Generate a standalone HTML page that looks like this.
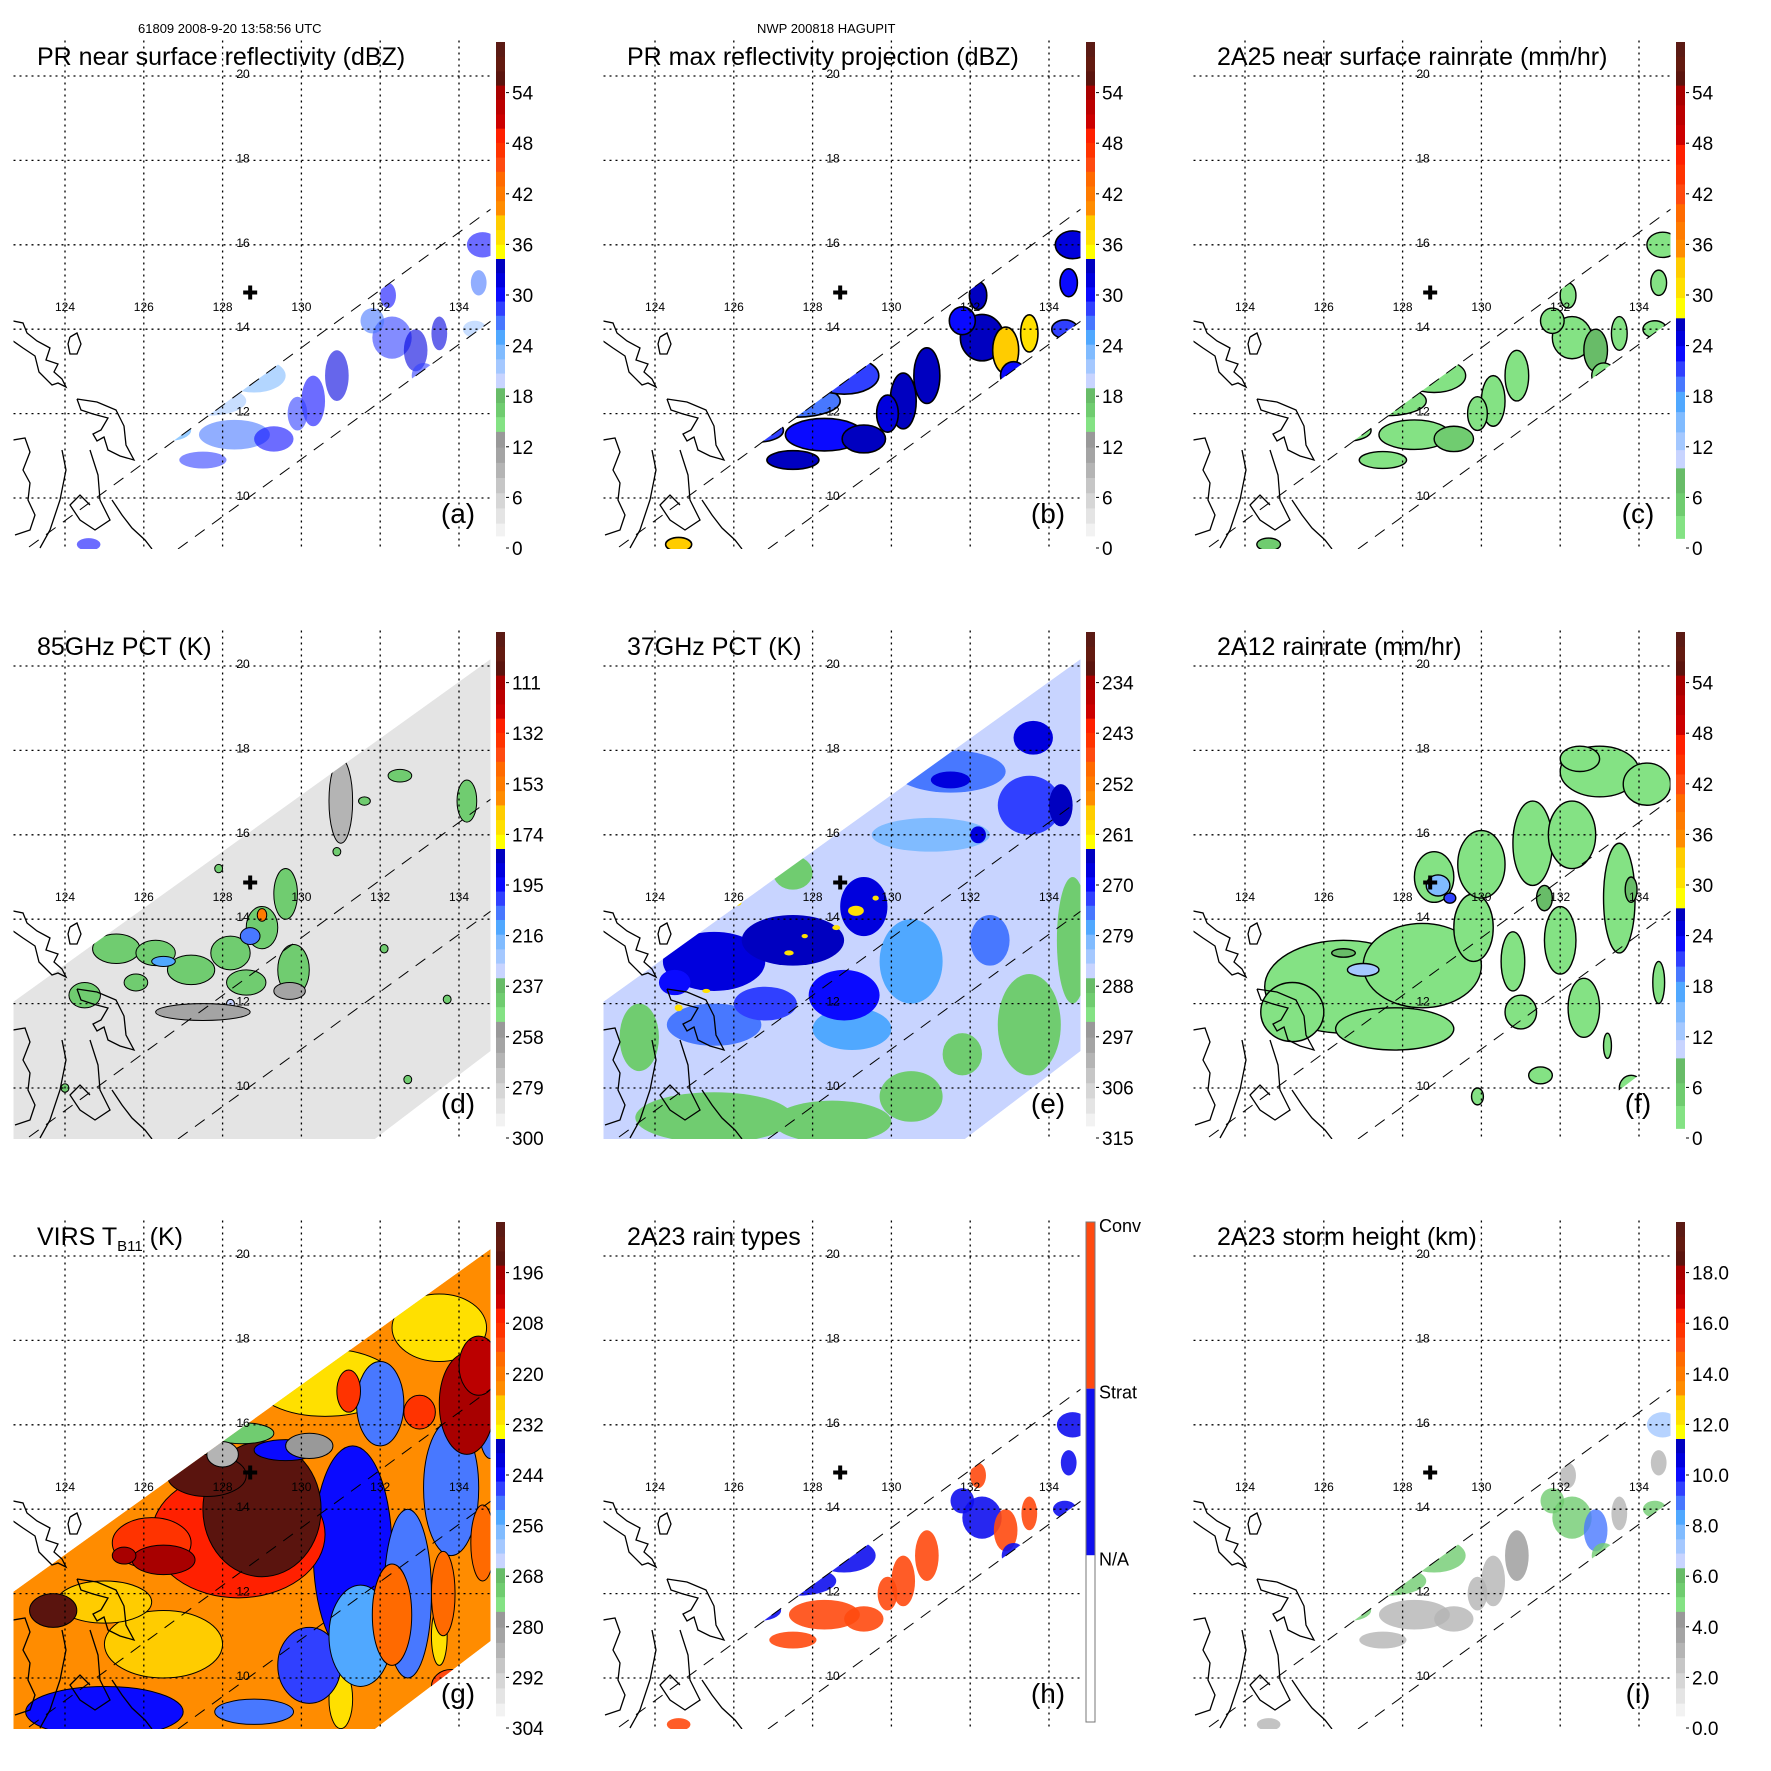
<!DOCTYPE html>
<html><head><meta charset="utf-8"><style>
html,body{margin:0;padding:0;background:#fff;}
svg{display:block;font-family:"Liberation Sans",sans-serif;}
</style></head><body>
<svg id="fig" xmlns="http://www.w3.org/2000/svg" width="1771" height="1771" viewBox="0 0 1771 1771">
<rect x="0" y="0" width="1771" height="1771" fill="#fff"/>
<text x="138" y="33" font-size="13">61809 2008-9-20 13:58:56 UTC</text>
<text x="757" y="33" font-size="13">NWP 200818 HAGUPIT</text>
</svg>
<script>
// ---------- data ----------
const prLon=[127.6,128.8,126.6,128.3,129.3,127.5,130.3,130.9,132.3,132.9,133.1,134.6,134.4,134.5,132.2,124.6,131.8,129.9,126.0,133.5];
const prLat=[12.3,12.9,11.6,11.5,11.4,10.9,12.3,12.9,13.8,13.5,12.9,16.0,14.0,15.1,14.8,8.9,14.2,12.0,11.3,13.9];
const prRx=[1.0,0.8,0.6,0.9,0.5,0.6,0.3,0.3,0.5,0.3,0.3,0.4,0.3,0.2,0.2,0.3,0.3,0.25,0.3,0.2];
const prRy=[0.35,0.4,0.25,0.35,0.3,0.2,0.6,0.6,0.5,0.5,0.3,0.3,0.2,0.3,0.3,0.15,0.3,0.4,0.15,0.4];
const aVal=[21,23,25,27,30,28,30,31,29,32,28,30,22,27,30,30,27,29,26,31];
const bVal=[27,28,29,30,34,33,34,33,33,38,30,31,28,30,33,38,30,32,31,36];
const cVal=[2,2,2,3,6,3,3,3,3,8,2,2,2,2,3,4,2,2,2,3];
const hVal=[1,1,1,2,2,2,2,2,1,2,1,1,1,1,2,2,1,2,2,2];
const iVal=[5.5,5.5,5.5,3,3,3,3,4,5.5,9,5.5,7,5.5,3,3,3,5.5,3,3,3];

const dBack=285;
const dLon=[125.3,126.3,127.2,128.2,129.0,129.6,128.6,129.8,124.5,125.8,126.5,128.7,129.0,132.5,134.2,131.6,130.9,132.1,133.7,126.5,127.9,128.2,132.7,124.0,127.5,129.7,131.0];
const dLat=[13.3,13.2,12.8,13.2,13.8,14.6,12.5,12.8,12.2,12.5,13.0,13.6,14.1,17.4,16.8,16.8,15.6,13.3,12.1,15.8,15.2,12.0,10.2,10.0,11.8,12.3,16.8];
const dRx=[0.6,0.5,0.6,0.5,0.4,0.3,0.5,0.4,0.4,0.3,0.3,0.25,0.12,0.3,0.25,0.15,0.1,0.1,0.1,0.1,0.1,0.1,0.1,0.1,1.2,0.4,0.3];
const dRy=[0.35,0.3,0.35,0.4,0.5,0.6,0.3,0.6,0.3,0.2,0.12,0.2,0.15,0.15,0.5,0.1,0.1,0.1,0.1,0.1,0.1,0.1,0.1,0.1,0.2,0.2,1.0];
const dVal=[240,240,240,240,240,240,240,240,240,240,215,205,150,240,240,240,240,240,240,240,240,230,240,240,262,262,270];

const eBack=285;
const eLon=[125.5,129.0,130.5,131.5,133.5,132.5,131.0,125.5,127.5,129.3,128.8,126.8,124.5,130.3,131.5,133.6,134.3,132.2,125.5,128.5,130.5,133.5,134.6,127.5,125.8,123.6,131.8,127.4,128.6,129.1,126.1,124.6,125.3,129.6,127.8];
const eLat=[11.5,11.4,13.0,17.5,16.7,13.5,16.0,13.0,13.5,14.3,12.2,12.0,12.5,17.6,17.3,18.3,16.7,16.0,9.3,9.2,9.8,11.5,13.5,15.1,14.6,11.2,10.8,13.2,13.8,14.2,14.4,11.9,12.3,14.5,13.6];
const eRx=[1.2,1.0,0.8,1.4,0.8,0.5,1.5,1.3,1.3,0.6,0.9,0.8,0.4,0.4,0.5,0.5,0.3,0.2,2.0,1.5,0.8,0.8,0.4,0.5,0.4,0.5,0.5,0.12,0.1,0.2,0.1,0.1,0.1,0.08,0.08];
const eRy=[0.5,0.5,1.0,0.5,0.7,0.6,0.4,0.7,0.6,0.7,0.6,0.4,0.3,0.3,0.2,0.4,0.5,0.2,0.6,0.5,0.6,1.2,1.5,0.4,0.25,0.8,0.5,0.06,0.06,0.12,0.08,0.08,0.05,0.06,0.05];
const eVal=[276,277,278,274,272,276,279,267,266,267,270,272,270,268,268,268,266,268,290,290,290,290,290,290,290,290,290,259,259,259,259,259,259,259,259];

const fLon=[126.5,128.5,127.8,125.2,129.8,128.8,130.0,131.3,132.3,133.0,134.2,132.5,133.5,132.0,130.8,131.0,132.6,134.5,133.8,131.5,129.9,133.2,127.0,128.9,129.2,126.5,131.6,133.8];
const fLat=[12.4,12.9,11.4,11.8,13.8,15.0,15.3,15.8,16.0,17.5,17.2,17.8,14.5,13.5,13.0,11.8,11.9,12.5,10.0,10.3,9.8,11.0,12.8,14.8,14.5,13.2,14.5,14.7];
const fRx=[2.0,1.5,1.5,0.8,0.5,0.5,0.6,0.5,0.6,1.0,0.6,0.5,0.4,0.4,0.3,0.4,0.4,0.15,0.3,0.3,0.15,0.1,0.4,0.3,0.15,0.3,0.2,0.15];
const fRy=[1.1,1.0,0.5,0.7,0.8,0.6,0.8,1.0,0.8,0.6,0.5,0.3,1.3,0.8,0.7,0.4,0.7,0.5,0.3,0.2,0.2,0.3,0.15,0.25,0.12,0.1,0.3,0.3];
const fVal=[2,2,2,2,2,2,2,2,2,2,2,2,2,2,2,2,2,2,2,2,2,2,12,16,22,9,9,9];

const gBack=222;
const gLon=[126.5,125.0,130.6,133.5,131.0,133.5,131.3,132.7,130.2,125.0,133.8,132.0,134.8,131.5,128.8,132.3,133.6,133.0,131.2,133.8,134.6,128.4,126.2,129.0,127.6,126.5,123.7,134.2,125.5,134.5,129.6,128.5,130.2,128.0];
const gLat=[10.8,11.8,17.0,18.3,9.5,11.0,13.0,12.0,10.3,9.2,14.5,16.5,16.0,11.0,9.2,11.5,12.0,16.3,16.8,9.8,13.2,13.4,13.2,14.0,14.8,12.8,11.6,16.5,12.9,17.4,15.4,15.8,15.5,15.3];
const gRx=[1.5,1.2,1.8,1.2,0.3,0.2,1.0,0.6,0.8,2.0,0.7,0.6,0.3,0.8,1.0,0.5,0.3,0.4,0.3,0.5,0.3,2.2,1.0,1.5,1.0,0.8,0.6,0.7,0.3,0.5,0.8,0.8,0.6,0.4];
const gRy=[0.8,0.5,0.8,0.8,0.7,0.7,2.5,2.0,0.9,0.6,1.6,1.0,0.8,1.2,0.3,1.2,1.0,0.4,0.5,0.4,0.9,1.5,0.6,1.6,0.5,0.35,0.4,1.2,0.2,0.7,0.25,0.25,0.3,0.3];
const gVal=[228,228,229,230,232,232,245,250,248,244,250,250,252,255,250,215,215,210,210,213,218,205,208,192,192,195,193,196,195,198,245,270,280,285];

const aTicks=['0','6','12','18','24','30','36','42','48','54'];
const dTicks=['300','279','258','237','216','195','174','153','132','111'];
const eTicks=['315','306','297','288','279','270','261','252','243','234'];
const gTicks=['304','292','280','268','256','244','232','220','208','196'];
const iTicks=['0.0','2.0','4.0','6.0','8.0','10.0','12.0','14.0','16.0','18.0'];
const hTicks=['N/A','Strat','Conv'];

// ---------- colour tables (frac from top, colour) ----------
const GEN=[[.029,'#5b1a14'],[.058,'#631a10'],[.086,'#5a140e'],[.114,'#a80000'],[.143,'#bb0000'],[.171,'#cc0000'],
[.199,'#ff2000'],[.228,'#ff3300'],[.256,'#ff4a10'],[.285,'#ff6a00'],[.314,'#ff7b00'],[.342,'#ff8c00'],
[.371,'#ffcc00'],[.40,'#ffe000'],[.428,'#ffff00'],[.456,'#0000c0'],[.484,'#0000dd'],[.512,'#0a0aff'],[.54,'#3040ff'],[.568,'#4878ff'],[.597,'#50a8ff'],
[.626,'#80bbff'],[.654,'#a4c8ff'],[.683,'#c8d4ff'],[.712,'#68bc68'],[.74,'#70cc70'],[.769,'#84e284'],
[.80,'#999999'],[.83,'#a4a4a4'],[.86,'#b4b4b4'],[.89,'#c6c6c6'],[.92,'#d6d6d6'],[.95,'#e4e4e4'],[.975,'#f2f2f2'],[1.0,'#ffffff']];
const RR=[[.029,'#5b1a14'],[.058,'#631a10'],[.086,'#5a140e'],[.125,'#a80000'],[.164,'#bb0000'],[.203,'#cc0000'],
[.242,'#ff2000'],[.281,'#ff3300'],[.32,'#ff4a10'],[.355,'#ff6a00'],[.39,'#ff7b00'],[.425,'#ff8c00'],
[.465,'#ffcc00'],[.505,'#ffe000'],[.545,'#ffff00'],[.57,'#0000c0'],[.6,'#0000dd'],[.63,'#0a0aff'],[.66,'#3040ff'],[.69,'#4878ff'],
[.73,'#50a8ff'],[.77,'#80bbff'],[.805,'#a4c8ff'],[.841,'#c8d4ff'],[.89,'#68bc68'],[.935,'#70cc70'],[.98,'#84e284'],[1.0,'#ffffff']];

// ---------- helpers ----------
const NS='http://www.w3.org/2000/svg';
const svg=document.getElementById('fig');
function mk(tag,attrs,parent){const e=document.createElementNS(NS,tag);for(const k in attrs)e.setAttribute(k,attrs[k]);parent.appendChild(e);return e;}
const PX=lon=>65+(lon-124)*39.4;
const PY=lat=>76+(20-lat)*42.2;
const MAP={x:13.5,y:40.5,w:477,h:508.5};
const BAR={x:496,y:42,w:9,h:507};
const TICK0=548, TICKSTEP=50.6;
function colorOf(tbl,frac){for(const b of tbl){if(frac<=b[0])return b[1];}return tbl[tbl.length-1][1];}
function fracTop(v,vb,vt){return Math.max(0,Math.min(1,(vt-v)/(vt-vb)));}

const wideSwath='13,412 492,68 492,460 375,549 13,549';
const narrowSwath='13,558 491,209 491,321 178,549 13,549';
const coasts=[
 '13,321 23,323 27,333 37,341 50,348 46,360 58,364 54,372 62,379 66,387 58,383 52,385 39,372 35,356 23,348 13,341',
 '70,337 77,333 81,344 77,354 70,354 68,344 70,337',
 '77,399 97,402 116,410 124,426 126,445 134,460 120,456 108,450 104,437 97,441 93,434 101,430 108,418 93,414 81,410 77,399',
 '13,440 25,438 30,452 23,470 30,483 28,500 35,515 30,530 15,535',
 '62,450 66,470 60,500 50,530 40,548',
 '90,450 98,475 100,500 110,520 95,530 80,520 70,505 80,495 90,505',
 '112,500 122,515 132,528 145,540 152,549'
];

let clipId=0;
function panel(col,row,o){
 const g=mk('g',{transform:`translate(${col*590},${row*590})`},svg);
 
 
 const cid='clip'+(clipId++);
 const defs=mk('defs',{},g);
 const cp=mk('clipPath',{id:cid},defs);
 mk('rect',{x:MAP.x,y:MAP.y,width:MAP.w,height:MAP.h},cp);
 const sid='sw'+(clipId++);
 const sp=mk('clipPath',{id:sid},defs);
 mk('polygon',{points:o.swath},sp);
 const mapG=mk('g',{'clip-path':`url(#${cid})`},g);
 
 
 const dataG=mk('g',{'clip-path':`url(#${sid})`},mapG);
 
 
 if(o.back!==undefined){
  const bg=mk('polygon',{points:o.swath,fill:colorOf(o.tbl,fracTop(o.back,o.vb,o.vt))},dataG);
  
  
 }
 for(let i=0;i<o.lon.length;i++){
  const fill=o.colorFn?o.colorFn(o.val[i]):colorOf(o.tbl,fracTop(o.val[i],o.vb,o.vt));
  const el=mk('ellipse',{cx:PX(o.lon[i]),cy:PY(o.lat[i]),rx:o.rx[i]*39.4*(o.scale||1),ry:o.ry[i]*42.2*(o.scale||1),fill:fill,
   stroke:o.stroke||'none','stroke-width':o.sw||0,opacity:o.op||1},dataG);
  
  
 }
 const e1=mk('line',{x1:29,y1:547,x2:491,y2:209,stroke:'#000','stroke-width':1,'stroke-dasharray':'12,9'},mapG);
 
 
 const e2=mk('line',{x1:178,y1:549,x2:491,y2:321,stroke:'#000','stroke-width':1,'stroke-dasharray':'12,9'},mapG);
 
 
 for(const c of coasts){
  const pl=mk('polyline',{points:c,fill:'none',stroke:'#000','stroke-width':1.3},mapG);
  
  
 }
 for(let lat=10;lat<=20;lat+=2){
  const l=mk('line',{x1:MAP.x,x2:MAP.x+MAP.w,y1:PY(lat),y2:PY(lat),stroke:'#000','stroke-width':1.3,'stroke-dasharray':'2,4'},mapG);
  
  
  const t=mk('text',{x:243,y:PY(lat)+2,'font-size':12,'text-anchor':'middle'},mapG);
  t.textContent=String(lat);
  
  
 }
 for(let lon=124;lon<=134;lon+=2){
  const l=mk('line',{x1:PX(lon),x2:PX(lon),y1:MAP.y,y2:MAP.y+MAP.h,stroke:'#000','stroke-width':1.3,'stroke-dasharray':'2,4'},mapG);
  
  
  const t=mk('text',{x:PX(lon),y:311,'font-size':12,'text-anchor':'middle'},mapG);
  t.textContent=String(lon);
  
  
 }
 const cx=PX(128.7),cy=PY(14.87);
 const cr=mk('path',{d:`M${cx-7} ${cy}H${cx+7}M${cx} ${cy-7}V${cy+7}`,stroke:'#000','stroke-width':4},g);
 
 
 const tt=mk('text',{x:37,y:65,'font-size':25},g);
 if(o.sub){
  const s1=mk('tspan',{},tt);s1.textContent='VIRS T';
  const s2=mk('tspan',{'font-size':15,dy:6},tt);s2.textContent='B11';
  const s3=mk('tspan',{dy:-6},tt);s3.textContent=' (K)';
 } else tt.textContent=o.title;
 
 
 const lt=mk('text',{x:458,y:523,'font-size':28,'text-anchor':'middle'},g);
 lt.textContent='('+o.letter+')';
 
 
 const cb=mk('g',{},g);
 
 
 if(o.rainTypes){
  const H=BAR.h-7, third=H/3;
  const cols=['#ff4a10','#1010ee','#ffffff'];
  for(let k=0;k<3;k++){
   const r=mk('rect',{x:BAR.x,y:BAR.y+k*third,width:BAR.w,height:third,fill:cols[k]},cb);
   
   
  }
  mk('rect',{x:BAR.x,y:BAR.y,width:BAR.w,height:H,fill:'none',stroke:'#777','stroke-width':1},cb);
  for(let k=0;k<hTicks.length;k++){
   const t=mk('text',{x:BAR.x+13,y:BAR.y+H-(k+1)*third+10,'font-size':18},cb);
   t.textContent=hTicks[k];
   
   
  }
 } else {
  let prev=0;
  for(const b of o.tbl){
   const r=mk('rect',{x:BAR.x,y:BAR.y+prev*BAR.h,width:BAR.w,height:(b[0]-prev)*BAR.h+0.6,fill:b[1]},cb);
   
   
   prev=b[0];
  }
  for(let k=0;k<o.ticks.length;k++){
   const y=TICK0-k*TICKSTEP;
   mk('line',{x1:BAR.x+10,x2:BAR.x+13,y1:y,y2:y,stroke:'#000','stroke-width':1},cb);
   const t=mk('text',{x:BAR.x+16,y:y+7,'font-size':19},cb);
   t.textContent=o.ticks[k];
   
   
  }
 }
}

const pr={lon:prLon,lat:prLat,rx:prRx,ry:prRy,swath:narrowSwath};
panel(0,0,Object.assign({},pr,{name:'pr-surface-reflectivity',title:'PR near surface reflectivity (dBZ)',letter:'a',val:aVal,tbl:GEN,vb:0,vt:60,ticks:aTicks,op:0.6}));
panel(1,0,Object.assign({},pr,{name:'pr-max-reflectivity',title:'PR max reflectivity projection (dBZ)',letter:'b',val:bVal,tbl:GEN,vb:0,vt:60,ticks:aTicks,stroke:'#000',sw:1.6,scale:1.1}));
panel(2,0,Object.assign({},pr,{name:'2a25-rainrate',title:'2A25 near surface rainrate (mm/hr)',letter:'c',val:cVal,tbl:RR,vb:0,vt:60,ticks:aTicks,stroke:'#000',sw:1.4}));
panel(0,1,{name:'85ghz-pct',title:'85GHz PCT (K)',letter:'d',lon:dLon,lat:dLat,rx:dRx,ry:dRy,val:dVal,back:dBack,tbl:GEN,vb:300,vt:90,ticks:dTicks,swath:wideSwath,stroke:'#000',sw:1});
panel(1,1,{name:'37ghz-pct',title:'37GHz PCT (K)',letter:'e',lon:eLon,lat:eLat,rx:eRx,ry:eRy,val:eVal,back:eBack,tbl:GEN,vb:315,vt:225,ticks:eTicks,swath:wideSwath});
panel(2,1,{name:'2a12-rainrate',title:'2A12 rainrate (mm/hr)',letter:'f',lon:fLon,lat:fLat,rx:fRx,ry:fRy,val:fVal,tbl:RR,vb:0,vt:60,ticks:aTicks,swath:wideSwath,stroke:'#000',sw:1.4});
panel(0,2,{name:'virs-tb11',sub:true,letter:'g',lon:gLon,lat:gLat,rx:gRx,ry:gRy,val:gVal,back:gBack,tbl:GEN,vb:304,vt:184,ticks:gTicks,swath:wideSwath,stroke:'#000',sw:1});
panel(1,2,Object.assign({},pr,{name:'2a23-rain-types',title:'2A23 rain types',letter:'h',val:hVal,rainTypes:true,colorFn:v=>v===2?'#ff4a10':'#1010ee',op:0.9}));
panel(2,2,Object.assign({},pr,{name:'2a23-storm-height',title:'2A23 storm height (km)',letter:'i',val:iVal,tbl:GEN,vb:0,vt:20,ticks:iTicks,op:0.8}));
</script>
</body></html>
